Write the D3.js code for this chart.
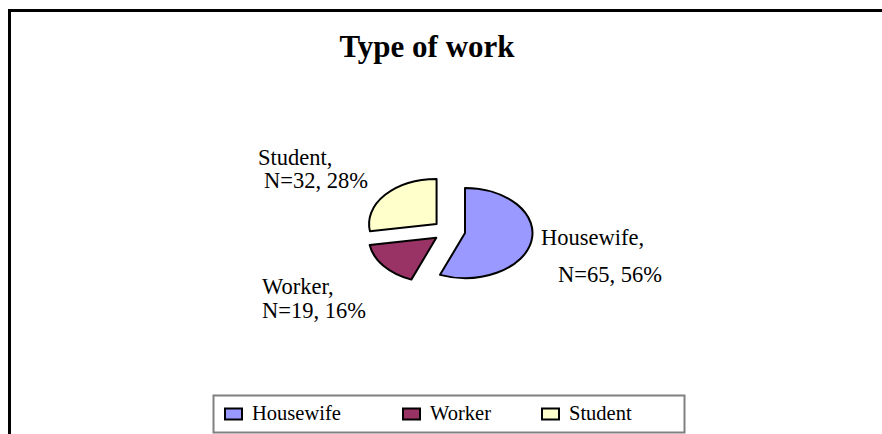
<!DOCTYPE html>
<html>
<head>
<meta charset="utf-8">
<script src="https://cdn.jsdelivr.net/npm/d3@7"></script>
<style>
  body { margin: 0; background: #fff; }
  svg { display: block; font-family: "Liberation Serif", "Times New Roman", serif; }
</style>
</head>
<body>
<svg id="chart" width="882" height="434"></svg>
<script>
// chart data
var categories = ["Housewife", "Worker", "Student"];
var counts = [65, 19, 32];
var colors = ["#9999FF", "#993366", "#FFFFCC"];

var svg = d3.select('#chart');

// outer frame (runs past the right and bottom edges)
svg.append('rect')
   .attr('x', 9.5).attr('y', 10.5)
   .attr('width', 900).attr('height', 460)
   .attr('fill', 'none')
   .attr('stroke', '#000')
   .attr('stroke-width', 3);

// title
svg.append('text')
   .attr('x', 427).attr('y', 57)
   .attr('text-anchor', 'middle')
   .attr('font-size', '31px')
   .attr('font-weight', 'bold')
   .text('Type of work');

// pie, drawn as a circle then squashed into an ellipse
var rx = 67.5, ry = 45;
var explode = 16.3;
var total = d3.sum(counts);
var pie = d3.pie().sort(null).value(d => d);
var arcs = pie(counts);
var arc = d3.arc().innerRadius(0).outerRadius(rx);

var g = svg.append('g')
   .attr('transform', 'translate(449,231) scale(1,' + (ry / rx) + ')');

g.selectAll('path')
  .data(arcs)
  .enter()
  .append('path')
  .attr('d', arc)
  .attr('transform', d => {
    var a = (d.startAngle + d.endAngle) / 2;
    return 'translate(' + (Math.sin(a) * explode) + ',' + (-Math.cos(a) * explode) + ')';
  })
  .attr('fill', (d, i) => colors[i])
  .attr('stroke', '#000')
  .attr('stroke-width', 2)
  .attr('vector-effect', 'non-scaling-stroke')
  .attr('stroke-linejoin', 'round');

// data labels
var labelPos = [
  { x: 541, y1: 245, x2: 558, y2: 282 },
  { x: 262, y1: 294, x2: 262, y2: 318 },
  { x: 258, y1: 165, x2: 264, y2: 188 }
];
var pct = d3.format('.0%');
categories.forEach((c, i) => {
  var p = labelPos[i];
  svg.append('text')
     .attr('x', p.x).attr('y', p.y1)
     .attr('font-size', '22.5px')
     .text(c + ',');
  svg.append('text')
     .attr('x', p.x2).attr('y', p.y2)
     .attr('font-size', '22.5px')
     .text('N=' + counts[i] + ', ' + pct(counts[i] / total));
});

// legend
svg.append('rect')
   .attr('x', 213.5).attr('y', 395.5)
   .attr('width', 471).attr('height', 37)
   .attr('fill', '#fff')
   .attr('stroke', '#808080')
   .attr('stroke-width', 2);

var legendX = [225, 403, 542];
var legend = svg.selectAll('.legend')
  .data(categories)
  .enter()
  .append('g')
  .attr('class', 'legend')
  .attr('transform', (d, i) => 'translate(' + legendX[i] + ',0)');

legend.append('rect')
  .attr('x', 0).attr('y', 408.5)
  .attr('width', 17).attr('height', 11)
  .attr('fill', (d, i) => colors[i])
  .attr('stroke', '#000')
  .attr('stroke-width', 2);

legend.append('text')
  .attr('x', 27).attr('y', 420)
  .attr('font-size', '20.5px')
  .text(d => d);
</script>
</body>
</html>
